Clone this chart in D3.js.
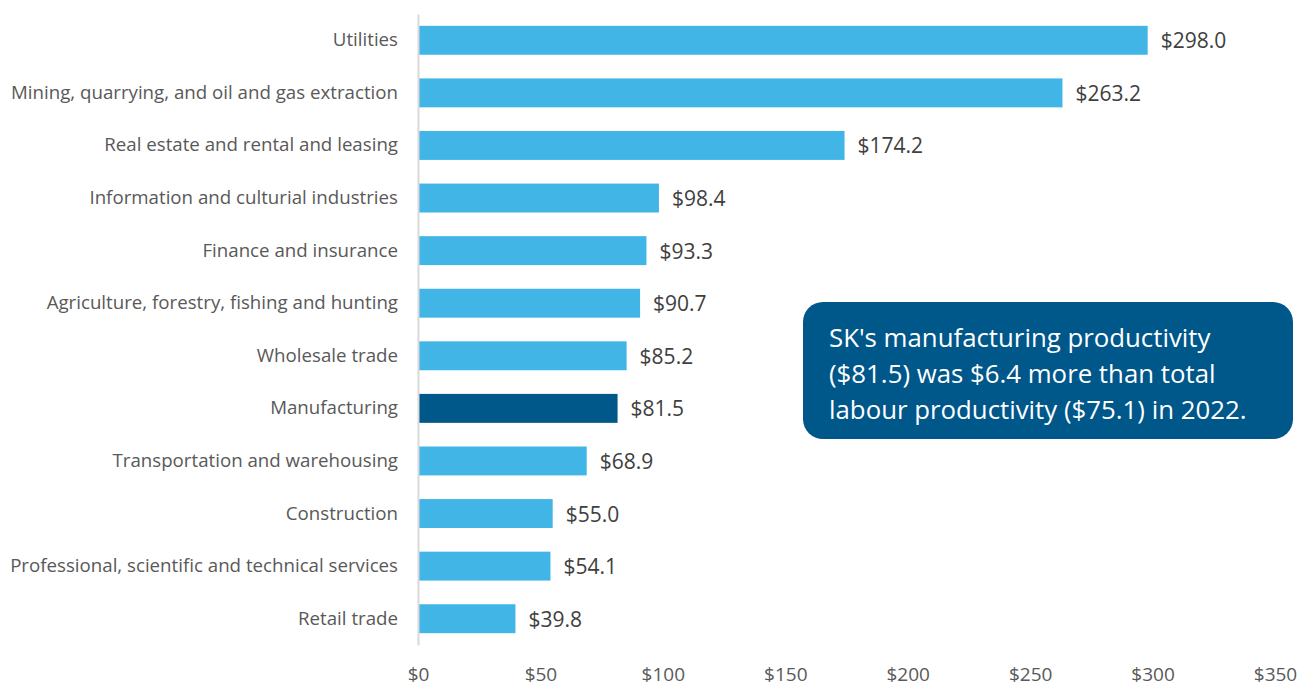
<!DOCTYPE html>
<html>
<head>
<meta charset="utf-8">
<script src="https://cdn.jsdelivr.net/npm/d3@7"></script>
<style>
  body { margin: 0; background: #fff; }
  svg text { font-family: "Open Sans", sans-serif; }
</style>
</head>
<body>
<div class="chart"></div>
<script>
const industries = [
  "Utilities",
  "Mining, quarrying, and oil and gas extraction",
  "Real estate and rental and leasing",
  "Information and culturial industries",
  "Finance and insurance",
  "Agriculture, forestry, fishing and hunting",
  "Wholesale trade",
  "Manufacturing",
  "Transportation and warehousing",
  "Construction",
  "Professional, scientific and technical services",
  "Retail trade"
];
const productivity = [298.0, 263.2, 174.2, 98.4, 93.3, 90.7, 85.2, 81.5, 68.9, 55.0, 54.1, 39.8];
const highlight = "Manufacturing";
const xTicks = [0, 50, 100, 150, 200, 250, 300, 350];
const noteLines = [
  "SK's manufacturing productivity",
  "($81.5) was $6.4 more than total",
  "labour productivity ($75.1) in 2022."
];

const width = 1300, height = 687;
const margin = { top: 14, bottom: 42, left: 418, right: 25 };

const data = industries.map((d, i) => ({ name: d, value: productivity[i] }));

const svg = d3.select(".chart")
  .append("svg")
  .attr("width", width)
  .attr("height", height);

const x = d3.scaleLinear()
  .domain([0, 350])
  .range([margin.left, width - margin.right]);

const y = d3.scaleBand()
  .domain(industries)
  .range([margin.top, height - margin.bottom])
  .paddingInner(0.45)
  .paddingOuter(0.225);

// bars
svg.selectAll("rect.bar")
  .data(data)
  .join("rect")
  .attr("class", "bar")
  .attr("x", x(0) + 1)
  .attr("y", d => y(d.name))
  .attr("width", d => x(d.value) - x(0) - 1)
  .attr("height", y.bandwidth())
  .attr("fill", d => d.name === highlight ? "#00578A" : "#41B6E6");

// value labels
svg.selectAll("text.val")
  .data(data)
  .join("text")
  .attr("class", "val")
  .attr("x", d => x(d.value) + 13)
  .attr("y", d => y(d.name) + y.bandwidth() / 2)
  .attr("dy", "0.38em")
  .attr("font-size", 21)
  .attr("fill", "#404040")
  .text(d => "$" + d.value.toFixed(1));

// y axis
const yAxis = svg.append("g")
  .attr("transform", `translate(${x(0)},0)`)
  .call(d3.axisLeft(y).tickSize(0).tickPadding(20));
yAxis.select(".domain").attr("stroke", "#d9d9d9").attr("stroke-width", 2);
yAxis.selectAll("text")
  .attr("font-size", 18.7)
  .attr("fill", "#595959")
  .style("font-family", "Open Sans");

// x axis
const xAxis = svg.append("g")
  .attr("transform", `translate(0,${height - margin.bottom})`)
  .call(d3.axisBottom(x).tickValues(xTicks).tickSize(0).tickPadding(23).tickFormat(d => "$" + d));
xAxis.select(".domain").remove();
xAxis.selectAll("text")
  .attr("font-size", 19)
  .attr("fill", "#595959")
  .style("font-family", "Open Sans");

// note box
const note = svg.append("g").attr("transform", "translate(803,302)");
note.append("rect")
  .attr("width", 490)
  .attr("height", 137)
  .attr("rx", 20)
  .attr("fill", "#00578A");
note.selectAll("text")
  .data(noteLines)
  .join("text")
  .attr("x", 26)
  .attr("y", (d, i) => 45 + i * 36)
  .attr("font-size", 25.8)
  .attr("fill", "#fff")
  .text(d => d);
</script>
</body>
</html>
